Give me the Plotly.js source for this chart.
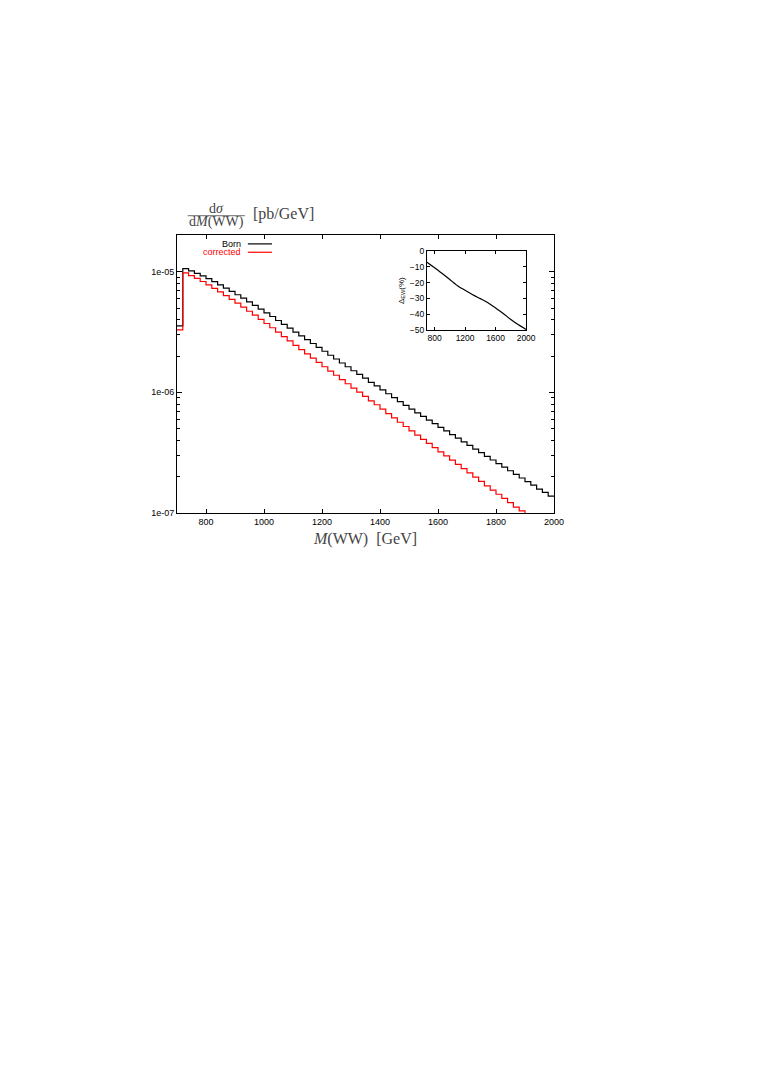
<!DOCTYPE html>
<html>
<head>
<meta charset="utf-8">
<script src="https://cdn.plot.ly/plotly-3.0.1.min.js"></script>
<style>
  html, body { margin: 0; padding: 0; background: #fff; }
  #chart { width: 763px; height: 1080px; }
</style>
</head>
<body>
<div id="chart"></div>
<script>
// bin edges of M(WW) in GeV (20 GeV bins)
var massEdges = [700, 720, 740, 760, 780, 800, 820, 840, 860, 880,
    900, 920, 940, 960, 980, 1000, 1020, 1040, 1060, 1080,
    1100, 1120, 1140, 1160, 1180, 1200, 1220, 1240, 1260, 1280,
    1300, 1320, 1340, 1360, 1380, 1400, 1420, 1440, 1460, 1480,
    1500, 1520, 1540, 1560, 1580, 1600, 1620, 1640, 1660, 1680,
    1700, 1720, 1740, 1760, 1780, 1800, 1820, 1840, 1860, 1880,
    1900, 1920, 1940, 1960, 1980, 2000];

// dsigma/dM, pb/GeV, one value per bin
var bornXsec = [3.55e-6, 1.059e-5, 1.016e-5, 9.70e-6, 9.23e-6, 8.75e-6, 8.26e-6, 7.78e-6, 7.31e-6, 6.87e-6,
    6.44e-6, 6.03e-6, 5.62e-6, 5.25e-6, 4.90e-6, 4.56e-6, 4.25e-6, 3.94e-6, 3.66e-6, 3.40e-6,
    3.16e-6, 2.94e-6, 2.73e-6, 2.54e-6, 2.36e-6, 2.19e-6, 2.03e-6, 1.89e-6, 1.75e-6, 1.63e-6,
    1.51e-6, 1.41e-6, 1.31e-6, 1.21e-6, 1.13e-6, 1.05e-6, 9.73e-7, 9.04e-7, 8.39e-7, 7.80e-7,
    7.26e-7, 6.76e-7, 6.31e-7, 5.89e-7, 5.50e-7, 5.13e-7, 4.79e-7, 4.47e-7, 4.17e-7, 3.89e-7,
    3.63e-7, 3.39e-7, 3.16e-7, 2.95e-7, 2.75e-7, 2.57e-7, 2.40e-7, 2.24e-7, 2.09e-7, 1.95e-7,
    1.82e-7, 1.70e-7, 1.58e-7, 1.48e-7, 1.38e-7];

var correctedXsec = [3.30e-6, 9.76e-6, 9.29e-6, 8.79e-6, 8.29e-6, 7.76e-6, 7.27e-6, 6.79e-6, 6.33e-6, 5.90e-6,
    5.48e-6, 5.09e-6, 4.70e-6, 4.36e-6, 4.03e-6, 3.72e-6, 3.43e-6, 3.15e-6, 2.90e-6, 2.67e-6,
    2.45e-6, 2.26e-6, 2.08e-6, 1.92e-6, 1.77e-6, 1.63e-6, 1.50e-6, 1.385e-6, 1.274e-6, 1.178e-6,
    1.084e-6, 1.005e-6, 9.27e-7, 8.51e-7, 7.89e-7, 7.27e-7, 6.67e-7, 6.15e-7, 5.65e-7, 5.21e-7,
    4.80e-7, 4.42e-7, 4.08e-7, 3.77e-7, 3.48e-7, 3.21e-7, 2.97e-7, 2.74e-7, 2.53e-7, 2.33e-7,
    2.15e-7, 1.98e-7, 1.83e-7, 1.68e-7, 1.55e-7, 1.43e-7, 1.32e-7, 1.22e-7, 1.12e-7, 1.04e-7,
    9.57e-8, 8.84e-8, 8.12e-8, 7.53e-8, 6.96e-8];

// inset: relative EW correction in %
var deltaMass = [700, 800, 900, 1000, 1100, 1200, 1300, 1400, 1500, 1600, 1700, 1800, 1900, 2000];
var deltaEW = [-7, -10.5, -14.2, -18, -21.9, -24.8, -27.6, -30.1, -32.7, -36, -39.5, -43.3, -46.7, -49.6];

var yTickVals = [1e-7, 1e-6, 1e-5];
var yTickText = ['1e-07', '1e-06', '1e-05'];

window.onload = drawChart;

function drawChart() {

    const SANS = 'Liberation Sans, Arial, sans-serif';
    const SERIF = 'Liberation Serif, DejaVu Serif, serif';

    // step lines need the last value repeated at the right edge
    function stepY(vals) {
        return vals.concat([vals[vals.length - 1]]);
    }

    var minorY = [];
    [1e-7, 1e-6, 1e-5].forEach(function (dec) {
        for (var k = 2; k <= 9; k++) {
            minorY.push(k * dec);
        }
    });

    var born = {
        x: massEdges,
        y: stepY(bornXsec),
        mode: 'lines',
        line: { shape: 'hv', color: '#000000', width: 1.2 },
        showlegend: false,
        hoverinfo: 'skip'
    };

    var corrected = {
        x: massEdges,
        y: stepY(correctedXsec),
        mode: 'lines',
        line: { shape: 'hv', color: '#ff0000', width: 1.2 },
        showlegend: false,
        hoverinfo: 'skip'
    };

    var inset = {
        x: deltaMass,
        y: deltaEW,
        xaxis: 'x2',
        yaxis: 'y2',
        mode: 'lines',
        line: { color: '#000000', width: 1.2, shape: 'spline', smoothing: 0.6 },
        showlegend: false,
        hoverinfo: 'skip'
    };

    function note(x, y, text, font, xanchor) {
        return { xref: 'paper', yref: 'paper', x: x, y: y, text: text, showarrow: false,
                 xanchor: xanchor || 'center', yanchor: 'middle', font: font };
    }

    var layout = {
        width: 763,
        height: 1080,
        margin: { l: 177, r: 209, t: 235, b: 567 },
        paper_bgcolor: '#ffffff',
        plot_bgcolor: '#ffffff',
        font: { family: SANS, size: 9, color: '#000' },
        xaxis: {
            range: [700, 2000],
            tickvals: [800, 1000, 1200, 1400, 1600, 1800, 2000],
            ticks: 'inside',
            ticklen: 4,
            tickcolor: '#000',
            showline: true,
            linecolor: '#000',
            linewidth: 1,
            mirror: 'ticks',
            showgrid: false,
            zeroline: false,
            tickfont: { family: SANS, size: 9 },
            title: {
                text: '<i>M</i>(WW)  [GeV]',
                font: { family: SERIF, size: 16, color: '#444' },
                standoff: 7
            }
        },
        yaxis: {
            type: 'log',
            range: [-7, -4.696],
            tickvals: yTickVals,
            ticktext: yTickText,
            ticks: 'inside',
            ticklen: 5,
            tickcolor: '#000',
            minor: { tickvals: minorY, ticks: 'inside', ticklen: 3, tickcolor: '#000' },
            showline: true,
            linecolor: '#000',
            linewidth: 1,
            mirror: 'ticks',
            showgrid: false,
            zeroline: false,
            tickfont: { family: SANS, size: 9 }
        },
        xaxis2: {
            domain: [0.663, 0.926],
            anchor: 'y2',
            range: [700, 2000],
            tickvals: [800, 1200, 1600, 2000],
            ticks: 'inside',
            ticklen: 3,
            tickcolor: '#000',
            showline: true,
            linecolor: '#000',
            linewidth: 1,
            mirror: 'ticks',
            showgrid: false,
            zeroline: false,
            tickfont: { family: SANS, size: 8.5 }
        },
        yaxis2: {
            domain: [0.658, 0.942],
            anchor: 'x2',
            range: [-50, 0],
            dtick: 10,
            ticks: 'inside',
            ticklen: 3,
            tickcolor: '#000',
            showline: true,
            linecolor: '#000',
            linewidth: 1,
            mirror: 'ticks',
            showgrid: false,
            zeroline: false,
            tickfont: { family: SANS, size: 8.5 },
            title: {
                text: 'Δ<sub>EW</sub>(%)',
                font: { family: SANS, size: 8 },
                standoff: 4
            }
        },
        annotations: [
            note(0.105, 1.097, 'd<i>σ</i>', { family: SERIF, size: 14, color: '#444' }),
            note(0.1035, 1.045, 'd<i>M</i>(WW)', { family: SERIF, size: 14, color: '#444' }),
            note(0.2825, 1.0745, '[pb/GeV]', { family: SERIF, size: 16, color: '#444' }),
            note(0.175, 0.968, 'Born', { family: SANS, size: 9, color: '#000' }, 'right'),
            note(0.175, 0.938, 'corrected', { family: SANS, size: 9, color: '#ff0000' }, 'right')
        ],
        shapes: [
            { type: 'line', xref: 'paper', yref: 'paper', x0: 0.0284, x1: 0.180, y0: 1.0694, y1: 1.0694,
              line: { color: '#444', width: 0.8 } },
            { type: 'line', xref: 'paper', yref: 'paper', x0: 0.188, x1: 0.252, y0: 0.968, y1: 0.968,
              line: { color: '#000', width: 1.2 } },
            { type: 'line', xref: 'paper', yref: 'paper', x0: 0.188, x1: 0.252, y0: 0.938, y1: 0.938,
              line: { color: '#ff0000', width: 1.2 } }
        ]
    };

    Plotly.newPlot('chart', [born, corrected, inset], layout, { staticPlot: true });
}
</script>
</body>
</html>
